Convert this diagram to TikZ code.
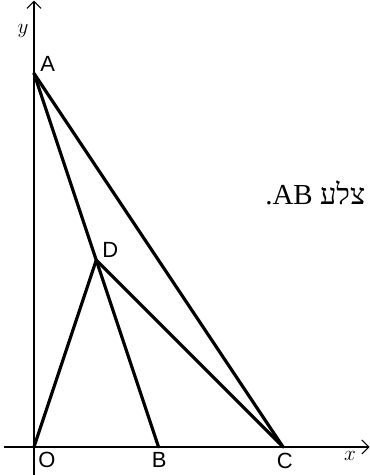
\documentclass[tikz,border=0pt]{standalone}
\usepackage{fontspec}
\usetikzlibrary{arrows.meta}
\newfontfamily\labelfont{Liberation Sans}
\newfontfamily\hebfont[Script=Hebrew]{Liberation Serif}
\TeXXeTstate=1
\begin{document}
\begin{tikzpicture}[x=1.245cm,y=1.245cm,
  every node/.style={font=\labelfont\fontsize{12.5}{14}\selectfont,inner sep=1pt},
  axislab/.style={font=\fontsize{12}{14}\selectfont},
  axis/.style={line width=0.6pt,-{Straight Barb[length=4pt,width=8pt]}},
  side/.style={line width=1.8pt,line cap=round,line join=round}]
\useasboundingbox (-0.546,-0.45) rectangle (5.397,7.18);
% axes
\coordinate (xs) at (-0.48,0);
\coordinate (xe) at (5.39,0);
\coordinate (ys) at (0,-0.46);
\coordinate (ye) at (0,7.17);
\draw[axis] (xs) -- (xe);
\draw[axis] (ys) -- (ye);
\node[axislab] (xlab) at (5.076,-0.145) {$x$};
\node[axislab] (ylab) at (-0.177,6.683) {$y$};
% points
\coordinate (O) at (0,0);
\coordinate (A) at (0,6);
\coordinate (B) at (2,0);
\coordinate (C) at (4,0);
\coordinate (D) at (1,3);
\draw[side] (A) -- (C);
\draw[side] (A) -- (B);
\draw[side] (O) -- (D) -- (C);
\node[anchor=base west] (Olab) at (0.036,-0.337) {O};
\node[anchor=base] (Blab) at (2.01,-0.337) {B};
\node[anchor=base] (Clab) at (4.03,-0.353) {C};
\node[anchor=base west] (Alab) at (0.07,6.024) {A};
\node[anchor=base west] (Dlab) at (1.064,3.036) {D};
% text of the page
\node[anchor=base west,inner sep=0pt,font=\hebfont\fontsize{16.5}{18}\selectfont] (txt) at (3.71,3.89)
  {\beginR צלע \beginL AB\endL.\endR};
\end{tikzpicture}
\end{document}
